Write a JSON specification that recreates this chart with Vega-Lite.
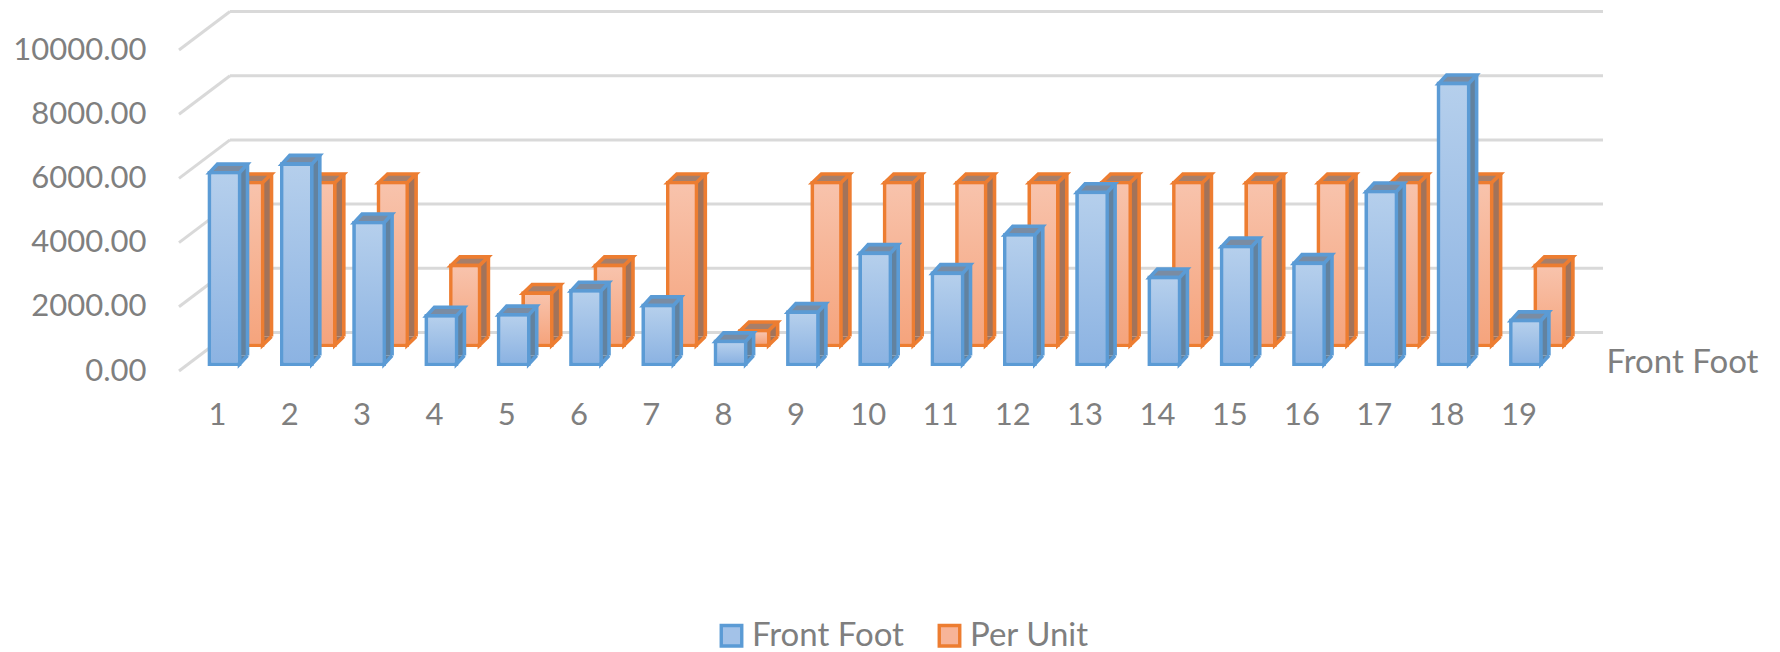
{
"$schema":"https://vega.github.io/schema/vega-lite/v6.json",
"width":1424,"height":321,
"autosize":"none",
"padding":{"left":179,"top":50,"right":177,"bottom":281},
"background":"white",
"config":{"font":"Lato","view":{"stroke":null}},
"datasets":{
"bars":[
{"n":1,"series":"Front Foot","v":5963},{"n":2,"series":"Front Foot","v":6233},{"n":3,"series":"Front Foot","v":4407},{"n":4,"series":"Front Foot","v":1505},{"n":5,"series":"Front Foot","v":1537},{"n":6,"series":"Front Foot","v":2283},{"n":7,"series":"Front Foot","v":1826},{"n":8,"series":"Front Foot","v":706},{"n":9,"series":"Front Foot","v":1617},{"n":10,"series":"Front Foot","v":3453},{"n":11,"series":"Front Foot","v":2830},{"n":12,"series":"Front Foot","v":4025},{"n":13,"series":"Front Foot","v":5350},{"n":14,"series":"Front Foot","v":2697},{"n":15,"series":"Front Foot","v":3661},{"n":16,"series":"Front Foot","v":3141},{"n":17,"series":"Front Foot","v":5372},{"n":18,"series":"Front Foot","v":8740},{"n":19,"series":"Front Foot","v":1359},
{"n":1,"series":"Per Unit","v":5060},{"n":2,"series":"Per Unit","v":5060},{"n":3,"series":"Per Unit","v":5060},{"n":4,"series":"Per Unit","v":2480},{"n":5,"series":"Per Unit","v":1620},{"n":6,"series":"Per Unit","v":2480},{"n":7,"series":"Per Unit","v":5060},{"n":8,"series":"Per Unit","v":450},{"n":9,"series":"Per Unit","v":5060},{"n":10,"series":"Per Unit","v":5060},{"n":11,"series":"Per Unit","v":5060},{"n":12,"series":"Per Unit","v":5060},{"n":13,"series":"Per Unit","v":5060},{"n":14,"series":"Per Unit","v":5060},{"n":15,"series":"Per Unit","v":5060},{"n":16,"series":"Per Unit","v":5060},{"n":17,"series":"Per Unit","v":5060},{"n":18,"series":"Per Unit","v":5060},{"n":19,"series":"Per Unit","v":2480},
{"series":"Grid","v":0,"n":1},{"series":"Grid","v":2000,"n":1},{"series":"Grid","v":4000,"n":1},{"series":"Grid","v":6000,"n":1},{"series":"Grid","v":8000,"n":1},{"series":"Grid","v":10000,"n":1}
]
},
"data":{"name":"bars"},
"encoding":{
"x":{"field":"n","type":"quantitative","scale":{"domain":[0.4744,20.17],"nice":false,"zero":false},
"axis":{"values":[1,2,3,4,5,6,7,8,9,10,11,12,13,14,15,16,17,18,19],"format":"d","grid":false,"domain":false,"ticks":false,"labelFont":"Lato","labelFontSize":31,"labelColor":"#7f7f7f","labelPadding":44,"labelBaseline":"middle","labelFlush":false,"labelOverlap":false,
"title":"Front Foot","titleFont":"Lato","titleFontSize":33,"titleFontWeight":"normal","titleColor":"#7f7f7f","titleX":1427,"titleY":-9,"titleAlign":"left","titleBaseline":"middle","titleAnchor":null}},
"y":{"field":"v","type":"quantitative","scale":{"domain":[0,10000],"nice":false},
"axis":{"values":[0,2000,4000,6000,8000,10000],"format":".2f","grid":false,"domain":false,"ticks":false,"labelFont":"Lato","labelFontSize":31,"labelColor":"#7f7f7f","labelPadding":33,"labelFlush":false,"labelOverlap":false,"title":null}}
},
"layer":[
{"transform":[{"filter":"datum.series==='Grid'"}],"mark":{"type":"rule","stroke":"#d9d9d9","strokeWidth":3,"xOffset":13,"x2Offset":1386,"yOffset":-38.5},
 "encoding":{"x2":{"field":"n"}}},
{"transform":[{"filter":"datum.series==='Grid'"}],"mark":{"type":"point","shape":"M0 0L51 -38.5","size":4,"filled":false,"opacity":1,"stroke":"#d9d9d9","strokeWidth":3,"xOffset":-38}},

{"transform":[{"filter":"datum.series==='Per Unit'"}],"mark":{"type":"rect","fill":"#a2735a","xOffset":45.5,"x2Offset":54.5,"yOffset":-34.5,"y2Offset":-34.5},
 "encoding":{"x2":{"field":"n"},"y2":{"datum":0}}},
{"transform":[{"filter":"datum.series==='Per Unit'"}],"mark":{"type":"rule","stroke":"#ed7d31","strokeWidth":3.6,"xOffset":54.5,"yOffset":-34.5,"y2Offset":-34.5},
 "encoding":{"y2":{"datum":0}}},
{"transform":[{"filter":"datum.series==='Per Unit'"}],"mark":{"type":"point","shape":"M0 -8.7L0 0L9 -8.7","size":4,"filled":true,"opacity":1,"fill":"#a2735a","stroke":"#ed7d31","strokeWidth":3.6,"xOffset":45.5,"yOffset":-25.8},
 "encoding":{"y":{"datum":0,"type":"quantitative","scale":{"domain":[0,10000],"nice":false}}}},
{"transform":[{"filter":"datum.series==='Per Unit'"}],"mark":{"type":"point","shape":"M0 0L28.5 0L37.5 -8.7L9 -8.7Z","size":4,"filled":true,"opacity":1,"fill":"#a67f6b","stroke":"#ed7d31","strokeWidth":3.6,"xOffset":17,"yOffset":-25.8}},
{"transform":[{"filter":"datum.series==='Per Unit'"}],"mark":{"type":"rect","strokeWidth":3.6,"xOffset":17,"x2Offset":45.5,"yOffset":-25.8,"y2Offset":-25.8},
 "encoding":{"x2":{"field":"n"},"y2":{"datum":0},
 "fill":{"field":"series","type":"nominal","scale":{"domain":["Front Foot","Per Unit"],"range":["#a3c2e8","#f7b498"]},
  "legend":{"orient":"none","legendX":536,"legendY":569,"direction":"horizontal","title":null,"symbolType":"square","symbolSize":420,"symbolStrokeWidth":3.4,"labelFont":"Lato","labelFontSize":33,"labelColor":"#7f7f7f","labelOffset":4,"columnPadding":28,"columns":2,"labelLimit":300}},
 "stroke":{"field":"series","type":"nominal","scale":{"domain":["Front Foot","Per Unit"],"range":["#5b9bd5","#ed7d31"]},"legend":{"orient":"none","legendX":536,"legendY":569,"direction":"horizontal","title":null,"symbolType":"square","symbolSize":420,"symbolStrokeWidth":3.4,"labelFont":"Lato","labelFontSize":33,"labelColor":"#7f7f7f","labelOffset":4,"columnPadding":28,"columns":2,"labelLimit":300}}}},
{"transform":[{"filter":"datum.series==='Per Unit'"}],"mark":{"type":"rect","fill":{"gradient":"linear","x1":0,"y1":0,"x2":0,"y2":1,"stops":[{"offset":0,"color":"#f8c3ac"},{"offset":1,"color":"#f5a47d"}]},"xOffset":18.8,"x2Offset":43.7,"yOffset":-24,"y2Offset":-27.6},
 "encoding":{"x2":{"field":"n"},"y2":{"datum":0}}},

{"transform":[{"filter":"datum.series==='Front Foot'"}],"mark":{"type":"rect","fill":"#62829f","xOffset":22.5,"x2Offset":30.5,"yOffset":-15.5,"y2Offset":-15.5},
 "encoding":{"x2":{"field":"n"},"y2":{"datum":0}}},
{"transform":[{"filter":"datum.series==='Front Foot'"}],"mark":{"type":"rule","stroke":"#5b9bd5","strokeWidth":3.6,"xOffset":30.5,"yOffset":-15.5,"y2Offset":-15.5},
 "encoding":{"y2":{"datum":0}}},
{"transform":[{"filter":"datum.series==='Front Foot'"}],"mark":{"type":"point","shape":"M0 -8.7L0 0L8 -8.7","size":4,"filled":true,"opacity":1,"fill":"#62829f","stroke":"#5b9bd5","strokeWidth":3.6,"xOffset":22.5,"yOffset":-6.8},
 "encoding":{"y":{"datum":0,"type":"quantitative","scale":{"domain":[0,10000],"nice":false}}}},
{"transform":[{"filter":"datum.series==='Front Foot'"}],"mark":{"type":"point","shape":"M0 0L30 0L38 -8.7L8 -8.7Z","size":4,"filled":true,"opacity":1,"fill":"#7a8ca3","stroke":"#5b9bd5","strokeWidth":3.6,"xOffset":-7.5,"yOffset":-6.8}},
{"transform":[{"filter":"datum.series==='Front Foot'"}],"mark":{"type":"rect","strokeWidth":3.6,"xOffset":-7.5,"x2Offset":22.5,"yOffset":-6.8,"y2Offset":-6.8},
 "encoding":{"x2":{"field":"n"},"y2":{"datum":0},
 "fill":{"field":"series","type":"nominal","scale":{"domain":["Front Foot","Per Unit"],"range":["#a3c2e8","#f7b498"]},
  "legend":{"orient":"none","legendX":536,"legendY":569,"direction":"horizontal","title":null,"symbolType":"square","symbolSize":420,"symbolStrokeWidth":3.4,"labelFont":"Lato","labelFontSize":33,"labelColor":"#7f7f7f","labelOffset":4,"columnPadding":28,"columns":2,"labelLimit":300}},
 "stroke":{"field":"series","type":"nominal","scale":{"domain":["Front Foot","Per Unit"],"range":["#5b9bd5","#ed7d31"]},"legend":{"orient":"none","legendX":536,"legendY":569,"direction":"horizontal","title":null,"symbolType":"square","symbolSize":420,"symbolStrokeWidth":3.4,"labelFont":"Lato","labelFontSize":33,"labelColor":"#7f7f7f","labelOffset":4,"columnPadding":28,"columns":2,"labelLimit":300}}}},
{"transform":[{"filter":"datum.series==='Front Foot'"}],"mark":{"type":"rect","fill":{"gradient":"linear","x1":0,"y1":0,"x2":0,"y2":1,"stops":[{"offset":0,"color":"#b5cfec"},{"offset":1,"color":"#8cb3e2"}]},"xOffset":-5.7,"x2Offset":20.7,"yOffset":-5,"y2Offset":-8.6},
 "encoding":{"x2":{"field":"n"},"y2":{"datum":0}}}
]
}
